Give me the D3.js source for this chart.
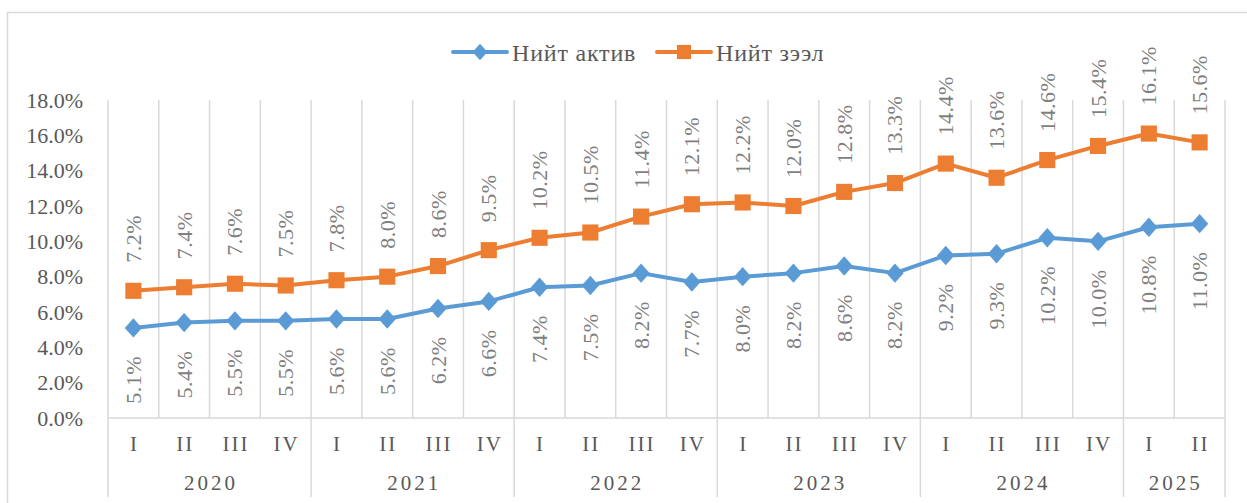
<!DOCTYPE html>
<html>
<head>
<meta charset="utf-8">
<script src="https://cdn.jsdelivr.net/npm/d3@7"></script>
<style>
  body { margin: 0; background: #fff; }
  svg { display: block; font-family: "Liberation Serif", "Times New Roman", serif; }
</style>
</head>
<body>
<svg id="chart"></svg>
<script>
// quarters and the year each belongs to
const quarters = ['I','II','III','IV','I','II','III','IV','I','II','III','IV',
                  'I','II','III','IV','I','II','III','IV','I','II'];
const years = ['2020','2021','2022','2023','2024','2025'];
const quartersPerYear = [4, 4, 4, 4, 4, 2];

// series values, percent
const assetValues = [5.1, 5.4, 5.5, 5.5, 5.6, 5.6, 6.2, 6.6, 7.4, 7.5, 8.2, 7.7,
                     8.0, 8.2, 8.6, 8.2, 9.2, 9.3, 10.2, 10.0, 10.8, 11.0];
const loanValues = [7.2, 7.4, 7.6, 7.5, 7.8, 8.0, 8.6, 9.5, 10.2, 10.5, 11.4, 12.1,
                    12.2, 12.0, 12.8, 13.3, 14.4, 13.6, 14.6, 15.4, 16.1, 15.6];
const yTicks = [0, 2, 4, 6, 8, 10, 12, 14, 16, 18];

const seriesNames = ['Нийт актив', 'Нийт зээл'];

const W = 1247, H = 503;
const plot = { left: 108, right: 1225, top: 100, bottom: 418 };
const gridColor = '#d9d9d9';
const textDark = '#595959';
const labelGray = '#7f7f7f';

const svg = d3.select('#chart').attr('width', W).attr('height', H);

// outer frame (right and bottom edges fall outside the picture)
svg.append('rect')
    .attr('x', 7.5).attr('y', 12.5)
    .attr('width', W + 10).attr('height', H + 10)
    .attr('fill', 'none').attr('stroke', gridColor).attr('stroke-width', 1.5);

const x = d3.scaleBand()
    .domain(d3.range(quarters.length))
    .range([plot.left, plot.right])
    .padding(0);

const y = d3.scaleLinear()
    .domain([0, 18])
    .range([plot.bottom, plot.top]);

const cx = i => x(i) + x.bandwidth() / 2;

// vertical gridlines at every category boundary
const boundaries = d3.range(quarters.length + 1).map(i =>
    i < quarters.length ? x(i) : x(i - 1) + x.bandwidth());

svg.append('g').selectAll('line')
    .data(boundaries)
    .join('line')
    .attr('x1', d => d).attr('x2', d => d)
    .attr('y1', plot.top).attr('y2', plot.bottom)
    .attr('stroke', gridColor).attr('stroke-width', 1.5);

// horizontal axis line
svg.append('line')
    .attr('x1', plot.left).attr('x2', plot.right)
    .attr('y1', y(0)).attr('y2', y(0))
    .attr('stroke', gridColor).attr('stroke-width', 1.5);

// year separators below the axis
let yearStarts = [0];
quartersPerYear.forEach((n, i) => yearStarts.push(yearStarts[i] + n));
svg.append('g').selectAll('line')
    .data(yearStarts)
    .join('line')
    .attr('x1', d => boundaries[d]).attr('x2', d => boundaries[d])
    .attr('y1', y(0)).attr('y2', 497)
    .attr('stroke', gridColor).attr('stroke-width', 1.5);

// y axis
const yAxis = svg.append('g')
    .attr('transform', `translate(${plot.left - 25},0)`)
    .call(d3.axisLeft(y).tickValues(yTicks).tickSize(0).tickPadding(0)
        .tickFormat(d => d.toFixed(1) + '%'));
yAxis.select('.domain').remove();
yAxis.selectAll('text')
    .attr('fill', textDark)
    .style('font-family', '"Liberation Serif", serif')
    .style('font-size', '22px');

// quarter labels
svg.append('g').selectAll('text')
    .data(quarters)
    .join('text')
    .attr('x', (d, i) => cx(i) + 1)
    .attr('y', 444)
    .attr('text-anchor', 'middle')
    .attr('dominant-baseline', 'central')
    .attr('fill', textDark)
    .style('font-size', '21px')
    .style('letter-spacing', '2px')
    .text(d => d);

// year labels
svg.append('g').selectAll('text')
    .data(years)
    .join('text')
    .attr('x', (d, i) => (boundaries[yearStarts[i]] + boundaries[yearStarts[i + 1]]) / 2 + 1.5)
    .attr('y', 483)
    .attr('text-anchor', 'middle')
    .attr('dominant-baseline', 'central')
    .attr('fill', textDark)
    .style('font-size', '21px')
    .style('letter-spacing', '3px')
    .text(d => d);

const line = d3.line()
    .x((d, i) => cx(i))
    .y(d => y(d));

const series = [
  { name: seriesNames[0], values: assetValues, color: '#5b9bd5', marker: 'diamond', labelSide: 1 },
  { name: seriesNames[1], values: loanValues, color: '#ed7d31', marker: 'square', labelSide: -1 }
];

series.forEach(s => {
  const g = svg.append('g');

  g.append('path')
      .datum(s.values)
      .attr('fill', 'none')
      .attr('stroke', s.color)
      .attr('stroke-width', 4)
      .attr('stroke-linejoin', 'round')
      .attr('d', line);

  // diamonds are squares turned by 45 degrees and stretched a little
  g.selectAll('.marker')
      .data(s.values)
      .join('path')
      .attr('class', 'marker')
      .attr('fill', s.color)
      .attr('d', d3.symbol().type(d3.symbolSquare).size(s.marker === 'diamond' ? 150 : 260)())
      .attr('transform', (d, i) => s.marker === 'diamond'
          ? `translate(${cx(i)},${y(d)}) scale(1,1.12) rotate(45)`
          : `translate(${cx(i)},${y(d)})`);

  // vertical data labels
  g.selectAll('.label')
      .data(s.values)
      .join('text')
      .attr('class', 'label')
      .attr('transform', (d, i) => `translate(${cx(i)},${y(d) + s.labelSide * 28}) rotate(-90)`)
      .attr('text-anchor', s.labelSide > 0 ? 'end' : 'start')
      .attr('dominant-baseline', 'central')
      .attr('fill', labelGray)
      .style('font-size', '22px')
      .style('letter-spacing', '0.5px')
      .text(d => d.toFixed(1) + '%');
});

// legend
const legend = svg.append('g').attr('transform', 'translate(453,52)');
const legendItems = [
  { s: series[0], x: 0 },
  { s: series[1], x: 204 }
];
legendItems.forEach(item => {
  const lg = legend.append('g').attr('transform', `translate(${item.x},0)`);
  lg.append('line')
      .attr('x1', 0).attr('x2', 54)
      .attr('stroke', item.s.color).attr('stroke-width', 4)
      .attr('stroke-linecap', 'round');
  lg.append('path')
      .attr('fill', item.s.color)
      .attr('d', d3.symbol().type(d3.symbolSquare).size(item.s.marker === 'diamond' ? 110 : 200)())
      .attr('transform', item.s.marker === 'diamond'
          ? 'translate(27,0) scale(1,1.12) rotate(45)'
          : 'translate(27,0)');
  lg.append('text')
      .attr('x', 59)
      .attr('y', 1)
      .attr('dominant-baseline', 'central')
      .attr('fill', textDark)
      .style('font-size', '24px')
      .style('letter-spacing', '0.8px')
      .text(item.s.name);
});
</script>
</body>
</html>
